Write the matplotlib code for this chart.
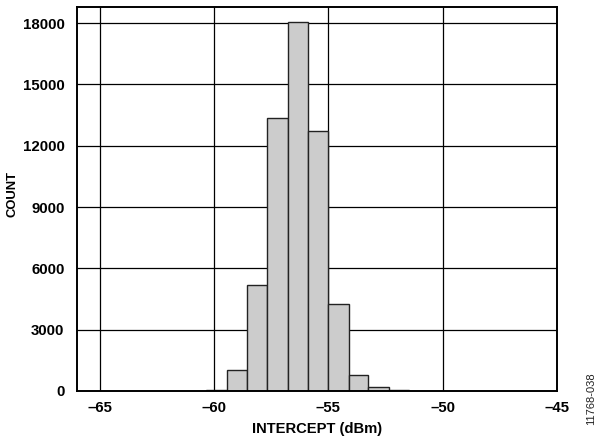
import matplotlib
matplotlib.use("Agg")
import matplotlib.pyplot as plt

plt.rcParams['font.family'] = ['Liberation Sans', 'DejaVu Sans']

bin_edges = [-60.35, -59.44, -58.55, -57.67, -56.79, -55.89, -55.0, -54.12, -53.25, -52.36, -51.48]
counts = [40, 1040, 5200, 13350, 18080, 12720, 4260, 800, 180, 30]
x_ticks = [-65, -60, -55, -50, -45]
x_tick_labels = ['–65', '–60', '–55', '–50', '–45']
y_ticks = [0, 3000, 6000, 9000, 12000, 15000, 18000]

fig = plt.figure(figsize=(5.99, 4.46), dpi=100)
ax = fig.add_axes([77/599, 1-391/446, 480/599, 384/446])

lefts = bin_edges[:-1]
widths = [b - a for a, b in zip(bin_edges[:-1], bin_edges[1:])]
ax.bar(lefts, counts, width=widths, align='edge', color='#cccccc',
       edgecolor='#222222', linewidth=1.0, zorder=3)

ax.set_xlim(-66, -45)
ax.set_ylim(0, 18790)
ax.set_xticks(x_ticks)
ax.set_xticklabels(x_tick_labels)
ax.set_yticks(y_ticks)
ax.set_yticklabels([str(v) for v in y_ticks])
ax.grid(True, color='black', linewidth=0.9, zorder=0)
ax.set_axisbelow(True)
ax.tick_params(axis='x', length=0, pad=7, labelsize=10.8)
ax.tick_params(axis='y', length=0, pad=9, labelsize=10.8)
for lab in ax.get_xticklabels() + ax.get_yticklabels():
    lab.set_fontweight('bold')
for s in ax.spines.values():
    s.set_linewidth(1.4)
    s.set_zorder(4)

ax.set_xlabel('INTERCEPT (dBm)', fontsize=10.6, fontweight='bold')
ax.set_ylabel('COUNT', fontsize=9.4, fontweight='bold')
ax.xaxis.set_label_coords((317-77)/480, (391-429)/384)
ax.xaxis.label.set_va('center')
ax.yaxis.set_label_coords((12.5-77)/480, (391-194)/384)
ax.yaxis.label.set_va('center')

fig.text(591/599, 1-399/446, '11768-038', rotation=90, fontsize=8,
         ha='center', va='center', color='#222222')

fig.savefig('out.png', dpi=100)
